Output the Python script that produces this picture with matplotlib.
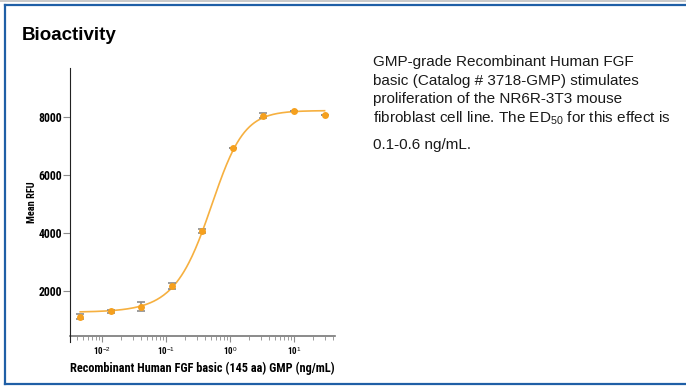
import numpy as np
import matplotlib
matplotlib.use("Agg")
import matplotlib.pyplot as plt
from matplotlib.lines import Line2D
from matplotlib.ticker import LogLocator, NullFormatter, FixedLocator
from matplotlib import font_manager

# concentration (ng/mL), mean RFU and error
conc = [0.00457, 0.0137, 0.0412, 0.123, 0.370, 1.11, 3.33, 10.0, 30.0]
rfu = [1115, 1310, 1460, 2180, 4070, 6930, 8060, 8215, 8080]
err = [95, 50, 150, 95, 75, 0, 80, 0, 0]

# 5-parameter logistic fit (bottom, top, midpoint, hill, asymmetry)
fit_bottom = 1270
fit_top = 8230
fit_c = 0.64
fit_hill = 1.8
fit_s = 0.7

xticks = [0.01, 0.1, 1, 10]
xticklabels = ["10$^{-2}$", "10$^{-1}$", "10$^{0}$", "10$^{1}$"]
yticks = [2000, 4000, 6000, 8000]

title = "Bioactivity"
desc_lines = [
    "GMP-grade Recombinant Human FGF",
    "basic (Catalog # 3718-GMP) stimulates",
    "proliferation of the NR6R-3T3 mouse",
    "fibroblast cell line. The ED$_{50}$ for this effect is",
    "0.1-0.6 ng/mL.",
]

orange = "#F5A01E"
line_orange = "#F6B040"
gray = "#8C8C8C"
blue = "#1F5FA6"

plt.rcParams["mathtext.fontset"] = "custom"
plt.rcParams["mathtext.rm"] = "Liberation Sans"
plt.rcParams["mathtext.it"] = "Liberation Sans:italic"
plt.rcParams["mathtext.bf"] = "Liberation Sans:bold"

# pick a narrow bold face if one exists
names = {f.name for f in font_manager.fontManager.ttflist}
narrow = [n for n in ["Roboto Condensed", "Liberation Sans Narrow", "DejaVu Sans Condensed"] if n in names]
narrow = narrow + ["DejaVu Sans"]

fig = plt.figure(figsize=(6.86, 3.87), dpi=100)

# frame
fig.add_artist(Line2D([0, 1], [0.998, 0.998], transform=fig.transFigure, color="#C0C0C0", lw=1.2))
fig.add_artist(Line2D([0.007, 1], [0.988, 0.988], transform=fig.transFigure, color=blue, lw=1.6))
fig.add_artist(Line2D([0.007, 0.007], [0.988, 0.009], transform=fig.transFigure, color=blue, lw=1.6))
fig.add_artist(Line2D([0.007, 1], [0.009, 0.009], transform=fig.transFigure, color=blue, lw=1.6))

fig.text(22 / 686, 1 - 35 / 387, title, fontsize=13.5, fontweight="bold",
         family="Liberation Sans", va="center", ha="left")

y0 = 1 - 62 / 387
for i, s in enumerate(desc_lines):
    dy = i * 18.6 + (9 if i == 4 else 0)
    fig.text(373 / 686, y0 - dy / 387, s, fontsize=11.0, family="Liberation Sans",
             va="center", ha="left", color="#1a1a1a")

ax = fig.add_axes([70 / 686, 1 - 336 / 387, 265 / 686, 268 / 387])
ax.set_xscale("log")
ax.set_xlim(10 ** -2.5, 10 ** 1.64)
ax.set_ylim(450, 9700)

xs = np.logspace(np.log10(conc[0]), np.log10(conc[-1]), 300)
ys = fit_bottom + (fit_top - fit_bottom) / (1 + (fit_c / xs) ** fit_hill) ** fit_s
ax.plot(xs, ys, color=line_orange, lw=1.2, zorder=2)

ax.errorbar(conc, rfu, yerr=err, fmt="none", ecolor=gray, elinewidth=1.2,
            capsize=3, capthick=1.2, zorder=3)
ax.plot(conc, rfu, "o", color=orange, ms=5, mec="none", zorder=4)

ax.spines["top"].set_visible(False)
ax.spines["right"].set_visible(False)
ax.spines["left"].set_color("#222222")
ax.spines["left"].set_bounds(250, 9700)
ax.spines["bottom"].set_color("#777777")
ax.spines["bottom"].set_linewidth(1.2)
ax.spines["bottom"].set_zorder(1)

tick_font = dict(family=narrow, fontweight="bold", fontstretch="condensed")

ax.set_yticks(yticks)
ax.set_yticklabels([str(v) for v in yticks], fontsize=8.5, **tick_font)
ax.tick_params(axis="y", length=5, width=0.8, color=gray, pad=1)

ax.xaxis.set_major_locator(FixedLocator(xticks))
ax.set_xticklabels(xticklabels, fontsize=6.5, **tick_font)
ax.xaxis.set_minor_locator(LogLocator(base=10, subs=np.arange(2, 10), numticks=20))
ax.xaxis.set_minor_formatter(NullFormatter())
ax.tick_params(axis="x", which="major", length=4, width=0.8, color=gray, pad=3)
ax.tick_params(axis="x", which="minor", length=3, width=0.6, color=gray)

ax.set_ylabel("Mean RFU", fontsize=7.5, labelpad=1, **tick_font)
ax.set_xlabel("Recombinant Human FGF basic (145 aa) GMP (ng/mL)", fontsize=8.8,
              labelpad=3, **tick_font)

fig.savefig("out.png", dpi=100)
